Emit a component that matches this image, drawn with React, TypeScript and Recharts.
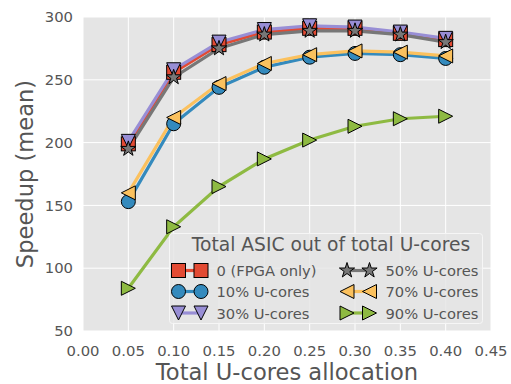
import React from 'react';
import { LineChart, Line, XAxis, YAxis, CartesianGrid, Legend } from 'recharts';

// allocation values on the x axis
const allocation = [0.05, 0.1, 0.15, 0.2, 0.25, 0.3, 0.35, 0.4];

// mean speedup per ASIC share
const fpgaOnly = [199, 256, 278, 288, 291, 291, 287, 282];
const u10 = [153, 215, 244, 260, 268, 271, 270, 267];
const u30 = [201, 258, 280, 290, 293, 292, 288, 283];
const u50 = [195, 252, 275, 286, 289, 289, 286, 280];
const u70 = [160, 220, 247, 263, 270, 273, 272, 269];
const u90 = [84, 133, 165, 187, 202, 213, 219, 221];

const xTicks = [0, 0.05, 0.1, 0.15, 0.2, 0.25, 0.3, 0.35, 0.4, 0.45];
const yTicks = [50, 100, 150, 200, 250, 300];

type Shape = 'square' | 'circle' | 'tri-down' | 'star' | 'tri-left' | 'tri-right';

const SERIES: { key: string; name: string; color: string; shape: Shape; values: number[] }[] = [
  { key: 'fpga', name: '0 (FPGA only)', color: '#E24A33', shape: 'square', values: fpgaOnly },
  { key: 'u10', name: '10% U-cores', color: '#348ABD', shape: 'circle', values: u10 },
  { key: 'u30', name: '30% U-cores', color: '#988ED5', shape: 'tri-down', values: u30 },
  { key: 'u50', name: '50% U-cores', color: '#777777', shape: 'star', values: u50 },
  { key: 'u70', name: '70% U-cores', color: '#FBC15E', shape: 'tri-left', values: u70 },
  { key: 'u90', name: '90% U-cores', color: '#8EBA42', shape: 'tri-right', values: u90 },
];

const data = allocation.map((x, i) => {
  const row: Record<string, number> = { x };
  SERIES.forEach((s) => { row[s.key] = s.values[i]; });
  return row;
});

const FONT = 'DejaVu Sans, sans-serif';
const TEXT = '#555555';
const MS = 14;

const starPath = (cx: number, cy: number, r: number) => {
  const pts: string[] = [];
  for (let i = 0; i < 10; i++) {
    const rr = i % 2 === 0 ? r : r * 0.381966;
    const a = -Math.PI / 2 + (i * Math.PI) / 5;
    pts.push(`${cx + rr * Math.cos(a)},${cy + rr * Math.sin(a)}`);
  }
  return `M${pts.join('L')}Z`;
};

const Marker = ({ cx, cy, shape, color }: { cx: number; cy: number; shape: Shape; color: string }) => {
  const h = MS / 2;
  const common = { fill: color, stroke: '#000', strokeWidth: 1 };
  switch (shape) {
    case 'square':
      return <rect x={cx - h} y={cy - h} width={MS} height={MS} {...common} />;
    case 'circle':
      return <circle cx={cx} cy={cy} r={h} {...common} />;
    case 'tri-down':
      return <polygon points={`${cx - h},${cy - h} ${cx + h},${cy - h} ${cx},${cy + h}`} {...common} />;
    case 'tri-left':
      return <polygon points={`${cx - h},${cy} ${cx + h},${cy - h} ${cx + h},${cy + h}`} {...common} />;
    case 'tri-right':
      return <polygon points={`${cx + h},${cy} ${cx - h},${cy - h} ${cx - h},${cy + h}`} {...common} />;
    case 'star':
      return <path d={starPath(cx, cy, h + 1)} {...common} />;
  }
  return null;
};

const renderLegend = () => {
  const rows = [37.5, 58.5, 80];
  const cols = [
    { m1: 9.5, m2: 32, tx: 47.5 },
    { m1: 178, m2: 200.5, tx: 216.5 },
  ];
  return (
    <svg width={314} height={91} style={{ display: 'block', overflow: 'visible' }}>
      <rect x={0.5} y={0.5} width={313} height={90} rx={3} fill="rgba(229,229,229,0.8)" stroke="#f6f6f6" />
      <text x={162} y={11.5} textAnchor="middle" dominantBaseline="central" fontFamily={FONT} fontSize={18.7} fill={TEXT}>
        Total ASIC out of total U-cores
      </text>
      {SERIES.map((s, i) => {
        const c = cols[Math.floor(i / 3)];
        const y = rows[i % 3];
        return (
          <g key={s.key}>
            <line x1={c.m1} x2={c.m2} y1={y} y2={y} stroke={s.color} strokeWidth={3.2} />
            <Marker cx={c.m1} cy={y} shape={s.shape} color={s.color} />
            <Marker cx={c.m2} cy={y} shape={s.shape} color={s.color} />
            <text x={c.tx} y={y} dominantBaseline="central" fontFamily={FONT} fontSize={14.7} fill={TEXT}>
              {s.name}
            </text>
          </g>
        );
      })}
    </svg>
  );
};

export default function App() {
  return (
    <div style={{ position: 'absolute', left: 0, top: 0, width: 511, height: 384, background: '#fff' }}>
      <LineChart width={511} height={384} data={data} margin={{ top: 17, right: 20, bottom: 0, left: 0 }}>
        <CartesianGrid stroke="#ffffff" strokeWidth={1} fill="#E5E5E5" fillOpacity={1} />
        <XAxis
          type="number"
          dataKey="x"
          domain={[0, 0.45]}
          ticks={xTicks}
          tickFormatter={(v: number) => v.toFixed(2)}
          axisLine={false}
          tickLine={false}
          tickSize={0}
          tickMargin={14}
          height={53}
          interval={0}
          tick={{ fill: TEXT, fontSize: 14.8, fontFamily: FONT }}
          label={{ value: 'Total U-cores allocation', position: 'center', dy: 14, fill: TEXT, fontSize: 22.6, fontFamily: FONT }}
        />
        <YAxis
          type="number"
          domain={[50, 300]}
          ticks={yTicks}
          axisLine={false}
          tickLine={false}
          tickSize={0}
          tickMargin={10}
          width={83}
          interval={0}
          tick={{ fill: TEXT, fontSize: 14.8, fontFamily: FONT }}
          label={{ value: 'Speedup (mean)', angle: -90, position: 'center', dx: -16.5, fill: TEXT, fontSize: 22.6, fontFamily: FONT }}
        />
        {SERIES.map((s) => (
          <Line
            key={s.key}
            type="linear"
            dataKey={s.key}
            name={s.name}
            stroke={s.color}
            strokeWidth={3.2}
            isAnimationActive={false}
            activeDot={false}
            dot={(p: any) => <Marker key={`${s.key}-${p.index}`} cx={p.cx} cy={p.cy} shape={s.shape} color={s.color} />}
          />
        ))}
        <Legend
          layout="horizontal"
          verticalAlign="middle"
          align="center"
          content={renderLegend}
          wrapperStyle={{ left: 169, top: 233, width: 314, height: 91 }}
        />
      </LineChart>
    </div>
  );
}
